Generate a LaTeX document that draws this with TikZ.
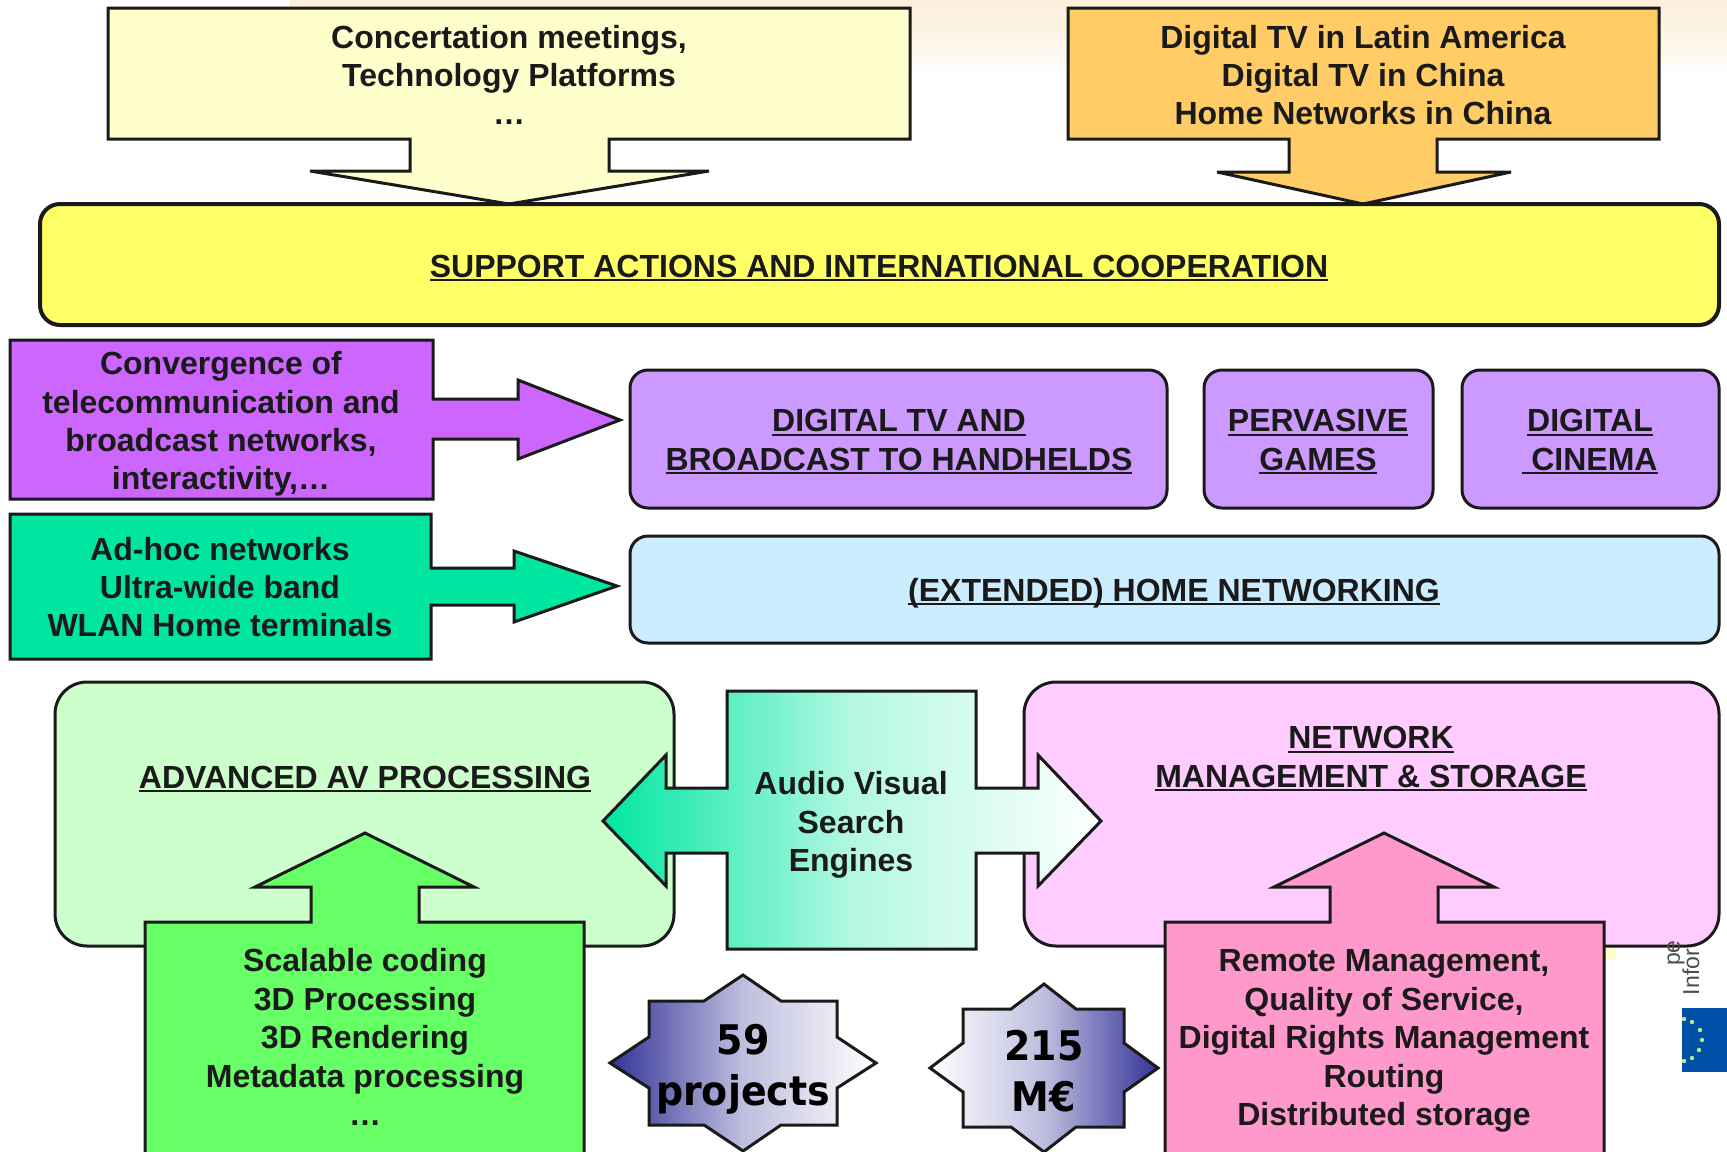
\documentclass[tikz,border=0pt]{standalone}
\usepackage{fontspec}
\setmainfont{Liberation Sans}
\newfontfamily\starfont{DejaVu Sans}
\newsavebox{\ulsave}
\newcommand{\ultext}[1]{\sbox{\ulsave}{#1}\usebox{\ulsave}\hspace{-\wd\ulsave}\rule[-2pt]{\wd\ulsave}{1.1pt}}
\definecolor{ink}{HTML}{1A1A1A}
\definecolor{peach}{HTML}{FCF0DC}
\definecolor{paleyellow}{HTML}{FFFFCC}
\definecolor{amber}{HTML}{FFCC66}
\definecolor{lemon}{HTML}{FFFF66}
\definecolor{violet}{HTML}{CC66FF}
\definecolor{lilac}{HTML}{CC99FF}
\definecolor{jade}{HTML}{00E6A0}
\definecolor{sky}{HTML}{CCECFF}
\definecolor{mint}{HTML}{CCFFCC}
\definecolor{orchid}{HTML}{FFCCFF}
\definecolor{lime}{HTML}{66FF66}
\definecolor{rose}{HTML}{FF99CC}
\definecolor{navy}{HTML}{333399}
\definecolor{flagblue}{HTML}{0050A8}
\tikzset{
  blk/.style={draw=ink,line width=1.5pt,line join=miter,miter limit=5},
  lbl/.style={text=ink,align=center,inner sep=0pt,font=\fontsize{16}{19.2}\selectfont\bfseries},
  starlbl/.style={text=black,align=center,inner sep=0pt,xscale=.93,font=\fontsize{20.4}{25.5}\selectfont\starfont\bfseries},
  smalllbl/.style={rotate=90,text=black!70,inner sep=0pt,font=\fontsize{11.5}{12}\selectfont},
}
\begin{document}
\begin{tikzpicture}[x=0.5pt,y=-0.5pt]
\useasboundingbox (0,0) rectangle (1727,1151);
\shade [top color=peach,bottom color=white,middle color=peach!75!white] (290,0) rectangle (1727,74);
\fill [paleyellow] (1604,948) -- (1614,948) -- (1618,960) -- (1604,960) -- cycle;
%top boxes
\draw [blk,fill=paleyellow] (108,8) -- (910,8) -- (910,139) -- (609,139) -- (609,171) -- (709,171) -- (509,204) -- (310,171) -- (410,171) -- (410,139) -- (108,139) -- cycle;
\node (concert) [lbl] at (509,75) {Concertation meetings,\\Technology Platforms\\\dots};
\draw [blk,fill=amber] (1068,8) -- (1659,8) -- (1659,139) -- (1437,139) -- (1437,172) -- (1511,172) -- (1363,204) -- (1217,172) -- (1289,172) -- (1289,139) -- (1068,139) -- cycle;
\node (cooperation) [lbl] at (1363,75) {Digital TV in Latin America\\Digital TV in China\\Home Networks in China};
\draw [blk,fill=lemon,line width=2pt,rounded corners=10pt] (40,204) rectangle (1719,325);
\node (support) [lbl] at (879,268) {\ultext{SUPPORT ACTIONS AND INTERNATIONAL COOPERATION}};
%middle rows
\draw [blk,fill=violet] (10,340) -- (433,340) -- (433,399) -- (518,399) -- (518,380) -- (620,420) -- (518,459) -- (518,439) -- (433,439) -- (433,499) -- (10,499) -- cycle;
\node (convergence) [lbl] at (221,424) {Convergence of\\telecommunication and\\broadcast networks,\\interactivity,\dots};
\draw [blk,fill=lilac,rounded corners=9pt] (630,370) rectangle (1167,508);
\node (dvb) [lbl] at (899,442) {\ultext{DIGITAL TV AND}\\\ultext{BROADCAST TO HANDHELDS}};
\draw [blk,fill=lilac,rounded corners=9pt] (1204,370) rectangle (1433,508);
\node (games) [lbl] at (1318,442) {\ultext{PERVASIVE}\\\ultext{GAMES}};
\draw [blk,fill=lilac,rounded corners=9pt] (1462,370) rectangle (1719,508);
\node (cinema) [lbl] at (1590,442) {\ultext{DIGITAL}\\\ultext{\ CINEMA}};
\draw [blk,fill=jade] (10,514) -- (431,514) -- (431,568) -- (514,568) -- (514,551) -- (617,586) -- (514,622) -- (514,605) -- (431,605) -- (431,659) -- (10,659) -- cycle;
\node (adhoc) [lbl] at (220,587) {Ad-hoc networks\\Ultra-wide band\\WLAN Home terminals};
\draw [blk,fill=sky,rounded corners=9pt] (630,536) rectangle (1719,643);
\node (home) [lbl] at (1174,593) {\ultext{(EXTENDED) HOME NETWORKING}};
%lower blocks
\draw [blk,fill=mint,rounded corners=16pt] (55,682) rectangle (674,946);
\node (av) [lbl] at (365,779) {\ultext{ADVANCED AV PROCESSING}};
\draw [blk,fill=orchid,rounded corners=16pt] (1024,682) rectangle (1719,946);
\node (network) [lbl] at (1371,759) {\ultext{NETWORK}\\\ultext{MANAGEMENT \& STORAGE}};
\shade [blk,left color=jade,right color=white,middle color=jade!30!white] (727,691) -- (976,691) -- (976,788) -- (1038,788) -- (1038,755) -- (1101,821) -- (1038,886) -- (1038,853) -- (976,853) -- (976,949) -- (727,949) -- (727,853) -- (666,853) -- (666,886) -- (603,821) -- (666,755) -- (666,788) -- (727,788) -- cycle;
\node (search) [lbl] at (851,825) {Audio Visual\\Search\\Engines};
\draw [blk,fill=lime] (145,1160) -- (145,922) -- (311,922) -- (311,887) -- (255,887) -- (365,833) -- (474,887) -- (419,887) -- (419,922) -- (584,922) -- (584,1160) -- cycle;
\node (coding) [lbl] at (365,1037) {Scalable coding\\3D Processing\\3D Rendering\\Metadata processing\\\dots};
\draw [blk,fill=rose] (1165,1160) -- (1165,922) -- (1330,922) -- (1330,887) -- (1274,887) -- (1384,833) -- (1494,887) -- (1438,887) -- (1438,922) -- (1604,922) -- (1604,1160) -- cycle;
\node (management) [lbl] at (1384,1041) {Remote Management,\\Quality of Service,\\Digital Rights Management\\Routing\\Distributed storage};
%stars
\shade [blk,left color=navy,right color=white,middle color=navy!32!white] (743,975) -- (781,1001) -- (837,1001) -- (837,1037) -- (876,1063) -- (837,1088) -- (837,1125) -- (781,1125) -- (743,1151) -- (704,1125) -- (649,1125) -- (649,1088) -- (610,1063) -- (649,1037) -- (649,1001) -- (704,1001) -- cycle;
\node (projects) [starlbl] at (743,1069) {59\\projects};
\shade [blk,left color=white,right color=navy,middle color=navy!32!white] (1044,984) -- (1076,1009) -- (1124,1009) -- (1124,1043) -- (1158,1068) -- (1124,1092) -- (1124,1127) -- (1076,1127) -- (1044,1152) -- (1011,1127) -- (963,1127) -- (963,1092) -- (930,1068) -- (963,1043) -- (963,1009) -- (1011,1009) -- cycle;
\node (budget) [starlbl] at (1044,1071) {215\\M€};
%leftovers of the slide at the right edge
\fill [flagblue] (1682,1008) rectangle (1727,1072);
\foreach \px/\py in {1692/1022,1700/1030,1702/1040,1699/1050,1692/1058,1684/1061,1684/1019}
  \fill [yellow!50!green!50!white] (\px,\py) circle (1.1pt);
\node (infor) [smalllbl] at (1691,972) {Infor};
\node (pe) [smalllbl] at (1676,953) {pe};
\end{tikzpicture}
\end{document}
